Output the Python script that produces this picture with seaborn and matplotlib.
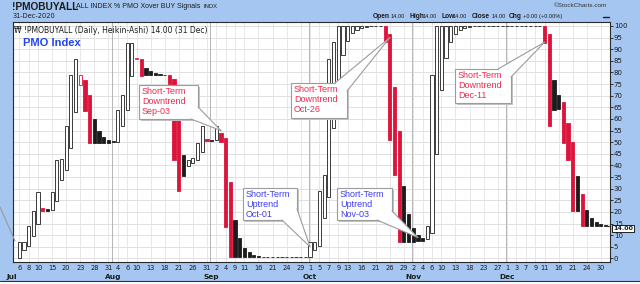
import numpy as np
import pandas as pd
import matplotlib
matplotlib.use("Agg")
import matplotlib.pyplot as plt
import seaborn as sns
from matplotlib.patches import Rectangle, Polygon
from matplotlib.lines import Line2D
from matplotlib.transforms import IdentityTransform, blended_transform_factory

# ---------------- data ----------------
holidays = ["2020-07-03", "2020-09-07", "2020-11-26", "2020-12-25"]
first_candle = "2020-07-06"

# Heikin-Ashi open / close, one per trading day from Jul 6 to Dec 31
ha_open = [
    0.3, 3.6, 5.4, 9.6, 15.0,          # Jul 6-10
    21.8, 21.1, 20.9, 24.7, 33.6,      # Jul 13-17
    38.1, 47.5, 63.2, 74.6, 76.8,      # Jul 20-24
    70.2, 60.0, 54.9, 52.3, 51.1,      # Jul 27-31
    50.4, 50.1, 57.0, 63.8, 78.3,      # Aug 3-7
    85.6, 85.9, 82.1, 80.5, 79.7,      # Aug 10-14
    79.3, 79.1, 79.1, 77.0, 59.7,      # Aug 17-21
    44.3, 39.8, 41.1, 42.2, 46.0,      # Aug 24-28
    51.5, 51.0, 50.8, 53.9, 52.0,      # Aug 31 - Sep 4
    32.7, 16.6, 8.6, 4.6,              # Sep 8-11
    2.6, 1.6, 1.1, 0.85, 0.7,          # Sep 14-18
    0.65, 0.6, 0.6, 0.6, 0.6,          # Sep 21-25
    0.6, 0.6, 0.6,                     # Sep 28-30
    0.6, 3.8,                          # Oct 1-2
    5.5, 17.2, 26.6, 56.3, 74.7,       # Oct 5-9
    87.3, 93.7, 96.8, 98.4, 99.2,      # Oct 12-16
    99.6, 99.8, 99.9, 100.0, 100.0,    # Oct 19-23
    96.5, 73.7, 54.9, 31.0, 19.0,      # Oct 26-30
    13.1, 10.2, 8.8, 8.2, 11.0,        # Nov 2-6
    45.0, 72.5, 86.2, 93.1, 96.6,      # Nov 9-13
    98.3, 99.1, 99.6, 100.0, 100.0,    # Nov 16-20
    100.0, 100.0, 100.0, 100.0,        # Nov 23-27
    100.0, 100.0, 100.0, 100.0, 100.0, # Nov 30 - Dec 4
    100.0, 100.0, 100.0, 100.0, 100.0, # Dec 7-11
    96.4, 76.7, 70.3, 67.2, 58.4,      # Dec 14-18
    50.3, 35.3, 27.9, 20.9,            # Dec 21-24
    17.4, 15.7, 14.9, 14.4,            # Dec 28-31
]
ha_close = [
    7.0, 7.1, 13.8, 20.5, 28.6,        # Jul 6-10
    20.5, 20.6, 28.6, 42.5, 42.6,      # Jul 13-17
    57.0, 79.0, 86.0, 79.0, 63.6,      # Jul 20-24
    49.7, 49.8, 49.8, 49.8, 49.8,      # Jul 27-31
    49.9, 64.0, 70.5, 92.8, 92.8,      # Aug 3-7
    86.2, 78.4, 78.9, 78.9, 78.9,      # Aug 10-14
    79.0, 79.0, 74.9, 42.5, 28.9,      # Aug 17-21
    35.3, 42.5, 43.2, 49.7, 57.0,      # Aug 24-28
    50.4, 50.6, 57.0, 50.0, 13.4,      # Aug 31 - Sep 4
    0.6, 0.6, 0.6, 0.6,                # Sep 8-11
    0.6, 0.6, 0.6, 0.6, 0.6,           # Sep 14-18
    0.6, 0.6, 0.6, 0.6, 0.6,           # Sep 21-25
    0.6, 0.6, 0.6,                     # Sep 28-30
    7.0, 7.2,                          # Oct 1-2
    29.0, 36.0, 86.0, 93.0, 100.0,     # Oct 5-9
    100.0, 100.0, 100.0, 100.0, 100.0, # Oct 12-16
    100.0, 100.0, 100.0, 100.0, 93.0,  # Oct 19-23
    51.0, 36.0, 7.0, 7.0, 7.2,         # Oct 26-30
    7.3, 7.4, 7.5, 13.8, 79.0,         # Nov 2-6
    100.0, 100.0, 100.0, 100.0, 100.0, # Nov 9-13
    100.0, 100.0, 100.0, 100.0, 100.0, # Nov 16-20
    100.0, 100.0, 100.0, 100.0,        # Nov 23-27
    100.0, 100.0, 100.0, 100.0, 100.0, # Nov 30 - Dec 4
    100.0, 100.0, 100.0, 100.0, 92.7,  # Dec 7-11
    57.0, 64.0, 64.2, 49.6, 42.2,      # Dec 14-18
    20.3, 20.5, 13.8, 14.0,            # Dec 21-24
    14.0, 14.0, 14.0, 14.0,            # Dec 28-31
]

tick_dates = [
    "2020-07-06", "2020-07-08", "2020-07-10", "2020-07-15", "2020-07-20", "2020-07-23", "2020-07-28", "2020-07-31",
    "2020-08-04", "2020-08-06", "2020-08-10", "2020-08-13", "2020-08-18", "2020-08-21", "2020-08-26", "2020-08-31",
    "2020-09-02", "2020-09-04", "2020-09-09", "2020-09-11", "2020-09-16", "2020-09-21", "2020-09-24", "2020-09-29",
    "2020-10-01", "2020-10-05", "2020-10-07", "2020-10-09", "2020-10-13", "2020-10-16", "2020-10-21", "2020-10-26", "2020-10-29",
    "2020-11-02", "2020-11-04", "2020-11-06", "2020-11-10", "2020-11-13", "2020-11-18", "2020-11-23", "2020-11-27",
    "2020-12-01", "2020-12-03", "2020-12-07", "2020-12-09", "2020-12-11", "2020-12-16", "2020-12-21", "2020-12-24", "2020-12-30",
]
month_names = ["Jul", "Aug", "Sep", "Oct", "Nov", "Dec"]

callout_labels = ["Short-Term\nDowntrend\nSep-03", "Short-Term\nDowntrend\nOct-26",
                  "Short-Term\nDowntrend\nDec-11", "Short-Term\nUptrend\nOct-01",
                  "Short-Term\nUptrend\nNov-03"]
callout_dates = ["2020-09-03", "2020-10-26", "2020-12-11", "2020-10-01", "2020-11-03"]
callout_values = [55.0, 95.0, 93.0, 5.0, 9.0]
last_value = 14.00

# ---------------- style ----------------
sns.set_theme(style="white")
plt.rcParams["font.family"] = ["DejaVu Sans"]

W, H = 640, 284
BG = "#a4c6f0"
RED = "#dc143c"
INK = "#1c1c1c"
TXT_RED = "#ee2a4e"
TXT_BLUE = "#3d3df0"

days = pd.bdate_range("2020-07-01", "2020-12-31")
days = days[~days.isin(pd.to_datetime(holidays))]
pos = pd.Series(np.arange(len(days)), index=days)

cdays = days[days >= pd.Timestamp(first_candle)]
df = pd.DataFrame({"date": cdays, "open": ha_open, "close": ha_close})
df["x"] = pos[cdays].values
df["prev"] = df["close"].shift(1).fillna(df["close"])
up = (df["close"] >= df["open"]).values
lower = (df["close"] < df["prev"] - 1e-9).values
face = np.where(up, "white", np.where(lower, RED, INK))
edge = np.where(lower, RED, INK)

fig = plt.figure(figsize=(W / 100, H / 100), dpi=100)
fig.patch.set_facecolor(BG)
L, R, T, B = 12.7, 610, 22, 261.5
ax = fig.add_axes([L / W, 1 - B / H, (R - L) / W, (B - T) / H])
ax.set_facecolor("white")
ax.set_xlim(0.59, 127.95)
ax.set_ylim(-1.3, 101.7)
ax.grid(False)

for v in range(0, 101, 5):
    ax.axhline(v, color="#dadada", lw=0.6, zorder=0)
tick_x = pos[pd.to_datetime(tick_dates)].values
for xv in tick_x:
    ax.axvline(xv, color="#e3e3e3", lw=0.6, zorder=0)
month_first = [days[days.month == m][0] for m in range(7, 13)]
for d in month_first[1:]:
    ax.axvline(pos[d] - 0.3, color="#b5b5b5", lw=0.7, zorder=0)

ax.bar(df["x"], df["close"] - df["open"], bottom=df["open"], width=0.68,
       color=list(face), edgecolor=list(edge), linewidth=0.6, zorder=3)

# last value dashed line to label
ax.plot([pos[days[-1]] + 0.4, 127.95], [last_value, last_value], color=INK, lw=0.8,
        ls=(0, (2, 1)), zorder=3, clip_on=False)

ax.set_xticks(tick_x)
ax.set_xticklabels([str(pd.Timestamp(d).day) for d in tick_dates])
ax.tick_params(axis="x", length=0, pad=2.2, labelsize=4.8, colors=INK)
ax.yaxis.tick_right()
ax.set_yticks(range(0, 101, 5))
ax.set_yticklabels([str(v) for v in range(0, 101, 5)])
ax.tick_params(axis="y", length=2, width=0.6, pad=0.8, labelsize=5, colors=INK,
               right=True, left=False)
for s in ax.spines.values():
    s.set_color("#2a2a2a")
    s.set_linewidth(0.8)

tr = blended_transform_factory(ax.transData, ax.transAxes)
for d, name in zip(month_first, month_names):
    ax.text(pos[d] + (0.4 if name == "Jul" else 0), -0.066, name, transform=tr, ha="center",
            va="center", fontsize=5.3, fontweight="bold", color=INK)

# ---------------- header texts ----------------
def fx(px):
    return px / W

def fy(py):
    return 1 - py / H

fig.text(fx(12), fy(6.5), "!PMOBUYALL", fontsize=7.3, fontweight="bold", color=INK,
         va="center", family=["Liberation Sans"])
fig.text(fx(76), fy(6.8), "ALL INDEX % PMO Xover BUY Signals", fontsize=5.0, color=INK,
         va="center", family=["Liberation Sans"])
fig.text(fx(204), fy(7), "INDX", fontsize=4.2, color=INK, va="center", family=["Liberation Sans"])
fig.text(fx(13), fy(16), "31-Dec-2020", fontsize=4.8, color=INK, va="center")
fig.text(fx(607), fy(5.5), "\u00a9StockCharts.com", fontsize=4.6, color="#333333", va="center",
         ha="right", family=["Liberation Sans"])

hdr = [(373, "Open", True), (391, "14.00", False), (409, "High", True), (423, "14.00", False),
       (441, "Low", True), (453, "14.00", False), (472, "Close", True), (492, "14.00", False),
       (509, "Chg", True), (523, "+0.00 (+0.00%)", False)]
for px, s, bold in hdr:
    fig.text(fx(px), fy(16.5), s, fontsize=4.8 if bold else 4.1, fontweight="bold" if bold else "normal",
             color=INK, va="center", family=["Liberation Sans"])
fig.add_artist(Line2D([fx(603), fx(609)], [fy(17)] * 2, color=INK, lw=1.0))

ax.text(0.003, 0.985, "\u20a9 !PMOBUYALL (Daily, Heikin-Ashi) 14.00 (31 Dec)", transform=ax.transAxes,
        fontsize=5.5, color=INK, va="top", ha="left", zorder=5)
fig.text(fx(23), fy(43), "PMO Index", fontsize=8, color="#2244ee", va="center",
         family=["Liberation Sans"], fontweight="bold")

# price label at right
fig.text(fx(613), fy(228.5), "14.00", fontsize=4.6, fontweight="bold", color=INK, va="center",
         bbox=dict(boxstyle="square,pad=0.18", fc="white", ec="black", lw=0.6), zorder=10)

# stray pointer at far left
fig.add_artist(Line2D([fx(0), fx(15)], [fy(207), fy(241)], color="#9a9a9a", lw=0.8))

# ---------------- callouts ----------------
boxes = [(139, 85, 198, 119), (291, 83, 347, 118), (455, 69, 511, 103),
         (243, 188, 297, 220), (337, 188, 392, 220)]
bases = [((198, 107), (191, 119)), ((347, 91), (335, 83)), ((511, 77), (498, 69)),
         ((282, 220), (297, 209)), ((377, 220), (392, 211))]
colors = [TXT_RED, TXT_RED, TXT_RED, TXT_BLUE, TXT_BLUE]
idt = IdentityTransform()

def disp(px, py):
    return (px, H - py)

for lab, d, v, (x0, y0, x1, y1), (b1, b2), col in zip(callout_labels, callout_dates, callout_values,
                                                      boxes, bases, colors):
    tip = ax.transData.transform((pos[pd.Timestamp(d)], v))
    fig.add_artist(Rectangle(disp(x0 + 2, y1 + 2), x1 - x0, y1 - y0, transform=idt,
                             fc="#c4c4c4", ec="none", zorder=20))
    fig.add_artist(Rectangle(disp(x0, y1), x1 - x0, y1 - y0, transform=idt,
                             fc="white", ec="#9c9c9c", lw=0.8, zorder=21))
    p1, p2 = disp(*b1), disp(*b2)
    fig.add_artist(Polygon([p1, p2, tuple(tip)], closed=True, transform=idt, fc="white",
                           ec="none", zorder=22))
    for p in (p1, p2):
        fig.add_artist(Line2D([p[0], tip[0]], [p[1], tip[1]], transform=idt, color="#9c9c9c",
                              lw=0.8, zorder=23))
    fig.text(x0 + 3, H - y0 - 2, lab, transform=idt, fontsize=6.5, color=col, va="top",
             ha="left", linespacing=1.12, family=["Liberation Sans"], zorder=24)

# bottom frame line
fig.add_artist(Line2D([0, 1], [fy(281)] * 2, color="#333333", lw=0.8))
fig.add_artist(Rectangle((0, 0), 1, 1 - 281.5 / H, transform=fig.transFigure, fc="white",
                         ec="none", zorder=0))

fig.savefig("out.png", dpi=100, facecolor=BG)
